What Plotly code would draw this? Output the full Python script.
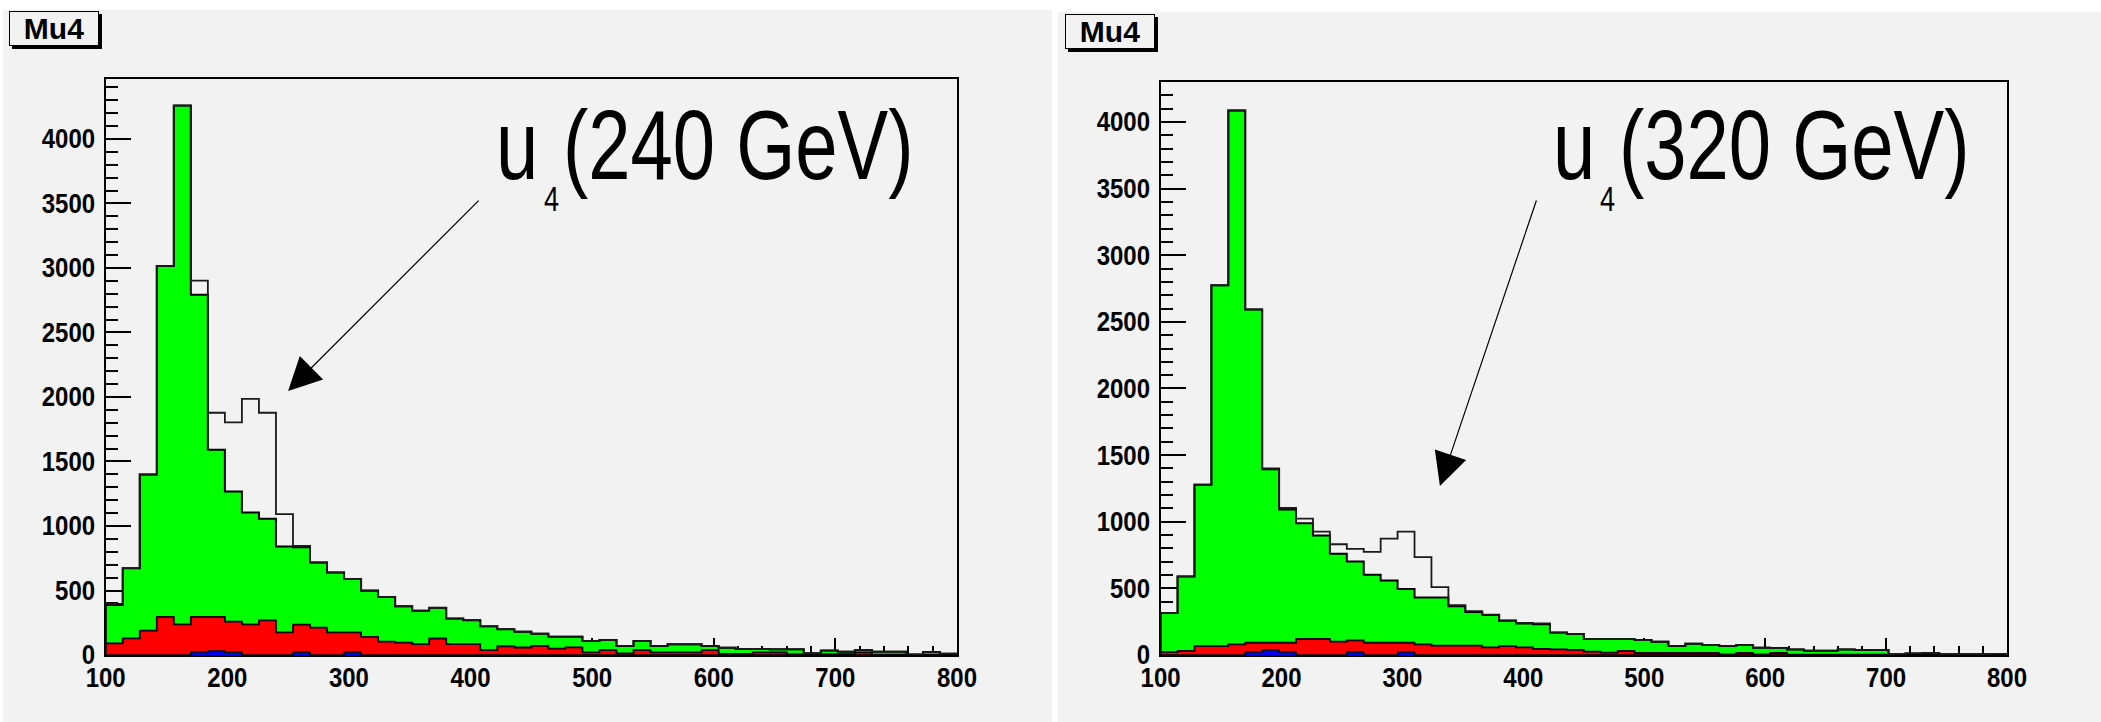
import plotly.graph_objects as go

# ---------------- data (50 bins of 14 GeV from 100 to 800) ----------------
bin_edges = [100 + 14 * i for i in range(51)]

# left panel: u4 (240 GeV)
left_total = [396, 673, 1399, 3015, 4259, 2902, 1878, 1804, 1985, 1878, 1092, 845, 717, 640, 589,
              500, 450, 378, 343, 366, 282, 270, 222, 200, 181, 165, 142, 142, 109, 116,
              70, 109, 70, 83, 83, 70, 57, 47, 47, 44, 44, 13, 34, 26, 39, 26, 26, 5, 23, 10]
left_bkg = [388, 673, 1399, 3015, 4259, 2792, 1592, 1268, 1104, 1057, 842, 836, 717, 640, 589,
            498, 450, 378, 343, 366, 282, 270, 222, 200, 181, 165, 142, 142, 109, 116,
            70, 109, 70, 83, 83, 70, 57, 47, 47, 44, 44, 13, 34, 26, 39, 26, 26, 3, 23, 10]
left_red = [90, 129, 189, 295, 238, 295, 295, 258, 238, 269, 176, 235, 212, 176, 176,
            140, 103, 96, 85, 128, 85, 85, 38, 68, 58, 70, 49, 59, 21, 38,
            12, 38, 20, 20, 20, 38, 9, 9, 20, 20, 7, 7, 7, 7, 20, 3, 3, 0, 3, 3]
left_blue = [0, 0, 0, 0, 0, 23, 31, 21, 0, 0, 0, 21, 0, 0, 21, 0, 0, 0, 0, 0,
             0, 0, 0, 0, 0, 0, 0, 0, 0, 0, 0, 0, 0, 0, 0, 0, 0, 0, 0, 0,
             0, 0, 0, 0, 0, 0, 0, 0, 0, 0]

# right panel: u4 (320 GeV)
right_total = [315, 590, 1278, 2774, 4086, 2593, 1401, 1103, 1023, 926, 831, 797, 774, 874, 926,
               734, 510, 374, 330, 303, 260, 240, 237, 168, 158, 120, 120, 120, 112, 100,
               68, 85, 75, 68, 75, 55, 52, 42, 32, 32, 42, 38, 38, 5, 12, 15, 5, 5, 5, 8]
right_bkg = [315, 590, 1278, 2774, 4086, 2593, 1393, 1092, 989, 897, 759, 702, 602, 559, 496,
             432, 432, 366, 322, 300, 257, 237, 231, 168, 158, 120, 120, 120, 112, 100,
             68, 85, 75, 68, 75, 55, 52, 42, 32, 32, 42, 38, 38, 5, 12, 15, 5, 5, 5, 8]
right_red = [22, 30, 67, 67, 80, 92, 92, 92, 120, 120, 100, 110, 92, 92, 92,
             80, 70, 70, 70, 57, 67, 57, 45, 42, 38, 25, 18, 30, 15, 15,
             15, 15, 15, 5, 15, 5, 15, 3, 3, 3, 3, 3, 3, 3, 3, 3, 3, 3, 3, 3]
right_blue = [0, 0, 0, 0, 0, 22, 37, 22, 0, 0, 0, 22, 0, 0, 22, 0, 0, 0, 0, 0,
              0, 0, 0, 0, 0, 0, 0, 0, 0, 0, 0, 0, 0, 0, 0, 0, 0, 0, 0, 0,
              0, 0, 0, 0, 0, 0, 0, 0, 0, 0]

panel_titles = ["Mu4", "Mu4"]
mass_labels = ["(240 GeV)", "(320 GeV)"]
arrow_tips = [(250, 2046), (331, 1268)]   # (mass, entries) the arrows point to
y_max = [4465, 4300]

# ---------------- figure ----------------
W, H = 2101, 722
BG = "#f2f2f2"
GREEN, RED, BLUE = "#00ff00", "#ff0000", "#0000ff"
FONT = "Liberation Sans, Arial, sans-serif"


def step(vals):
    xs = [bin_edges[0]] + bin_edges
    ys = [0] + list(vals) + [0]
    return xs, ys


fig = go.Figure()

panels = [
    ("x", "y", left_total, left_bkg, left_red, left_blue),
    ("x2", "y2", right_total, right_bkg, right_red, right_blue),
]
for xa, ya, tot, bkg, red, blue in panels:
    for vals, col, lw in [(bkg, GREEN, 2), (red, RED, 1.8), (blue, BLUE, 1.5)]:
        xs, ys = step(vals)
        fig.add_trace(go.Scatter(x=xs, y=ys, mode="lines", line=dict(shape="hv", color="#000", width=lw),
                                 fill="tozeroy", fillcolor=col, xaxis=xa, yaxis=ya,
                                 showlegend=False, hoverinfo="skip"))
    xs, ys = step(tot)
    fig.add_trace(go.Scatter(x=xs, y=ys, mode="lines", line=dict(shape="hv", color="#1a1a1a", width=1.8),
                             xaxis=xa, yaxis=ya, showlegend=False, hoverinfo="skip"))

tick_font = dict(family=FONT, size=24, color="#000", weight="bold")

def xaxis_cfg(domain, anchor):
    return dict(domain=domain, anchor=anchor, range=[100, 800], tickvals=[100, 200, 300, 400, 500, 600, 700, 800],
                ticks="inside", ticklen=17, tickwidth=1.5, tickcolor="#000",
                minor=dict(ticks="inside", ticklen=9, dtick=20, tick0=100, tickcolor="#000", tickwidth=1.5),
                showline=True, mirror=True, linecolor="#000", linewidth=1.5, showgrid=False, zeroline=False,
                layer="below traces", tickfont=tick_font, ticklabelstandoff=0, automargin=False)

def yaxis_cfg(domain, anchor, ymax):
    return dict(domain=domain, anchor=anchor, range=[0, ymax], tickvals=[0, 500, 1000, 1500, 2000, 2500, 3000, 3500, 4000],
                ticks="inside", ticklen=26, tickwidth=1.5, tickcolor="#000",
                minor=dict(ticks="inside", ticklen=13, dtick=100, tick0=0, tickcolor="#000", tickwidth=1.5),
                showline=True, mirror=True, linecolor="#000", linewidth=1.5, showgrid=False, zeroline=False,
                layer="below traces", tickfont=tick_font, ticklabelstandoff=4, automargin=False)

fig.update_layout(
    width=W, height=H, margin=dict(l=0, r=0, t=0, b=0, pad=0), autosize=False,
    paper_bgcolor="white", plot_bgcolor=BG,
    xaxis=xaxis_cfg([105.7 / W, 957 / W], "y"),
    yaxis=yaxis_cfg([1 - 655 / H, 1 - 79 / H], "x", y_max[0]),
    xaxis2=xaxis_cfg([1160.6 / W, 2007 / W], "y2"),
    yaxis2=yaxis_cfg([1 - 655 / H, 1 - 82 / H], "x2", y_max[1]),
)

# canvas backgrounds
shapes = [
    dict(type="rect", xref="paper", yref="paper", x0=3 / W, x1=1052 / W, y0=0, y1=1 - 10 / H,
         fillcolor=BG, line=dict(width=0), layer="below"),
    dict(type="rect", xref="paper", yref="paper", x0=1058 / W, x1=1, y0=0, y1=1 - 12 / H,
         fillcolor=BG, line=dict(width=0), layer="below"),
]
annotations = []
title_boxes = [(9, 11), (1065, 14)]
for (bx, by), t in zip(title_boxes, panel_titles):
    shapes.append(dict(type="rect", xref="paper", yref="paper", x0=(bx + 3) / W, x1=(bx + 93) / W,
                       y0=1 - (by + 38) / H, y1=1 - (by + 3) / H, fillcolor="#000", line=dict(width=0),
                       layer="above"))
    annotations.append(dict(text=t, xref="paper", yref="paper", x=bx / W, y=1 - by / H,
                            xanchor="left", yanchor="top", showarrow=False, width=88, height=33,
                            align="center", valign="middle", bgcolor=BG, bordercolor="#000",
                            borderwidth=1, borderpad=0,
                            font=dict(family=FONT, size=30, color="#000", weight="bold")))

big = dict(family=FONT, size=76, color="#000")
small = dict(family=FONT, size=27, color="#000")
label_pos = [(494, 561, 542), (1551, 1617, 1598)]
for (ux, px, sx), lab in zip(label_pos, mass_labels):
    annotations.append(dict(text="u", xref="paper", yref="paper", x=ux / W, y=1 - 202 / H,
                            xanchor="left", yanchor="bottom", showarrow=False, font=big))
    annotations.append(dict(text=lab, xref="paper", yref="paper", x=px / W, y=1 - 202 / H,
                            xanchor="left", yanchor="bottom", showarrow=False, font=big))
    annotations.append(dict(text="4", xref="paper", yref="paper", x=sx / W, y=1 - 221 / H,
                            xanchor="left", yanchor="bottom", showarrow=False, font=small))

arrow_offsets = [(192, -192), (97, -287)]
for (tx, ty), (ax, ay), xr, yr in zip(arrow_tips, arrow_offsets, ["x", "x2"], ["y", "y2"]):
    annotations.append(dict(text="", x=tx, y=ty, xref=xr, yref=yr, ax=ax, ay=ay, showarrow=True,
                            arrowhead=2, arrowsize=5.5, arrowwidth=1.2, arrowcolor="#000"))

fig.update_layout(shapes=shapes, annotations=annotations)

# the original picture's lettering is vertically stretched; mimic that on the rendered text
post = """
document.body.style.margin='0';document.body.style.overflow='hidden';
var gd = document.getElementById('{plot_id}');
function stretch(el, s, bottom) {
  var b = el.getBBox();
  var cx = b.x + b.width / 2;
  var cy = bottom ? b.y + b.height : b.y + b.height / 2;
  var old = el.getAttribute('transform') || '';
  el.setAttribute('transform', old + ' translate(' + cx + ',' + cy + ') scale(1,' + s + ') translate(' + (-cx) + ',' + (-cy) + ')');
}
gd.querySelectorAll('.xtick text, .ytick text, .x2tick text, .y2tick text').forEach(function (t) { stretch(t, 1.12, false); });
gd.querySelectorAll('text.annotation-text').forEach(function (t) {
  var s = t.textContent;
  if (s && s !== 'Mu4') { stretch(t, 1.3, true); }
});
"""
fig.write_html("out.html", config={"responsive": False, "displayModeBar": False}, post_script=post)
